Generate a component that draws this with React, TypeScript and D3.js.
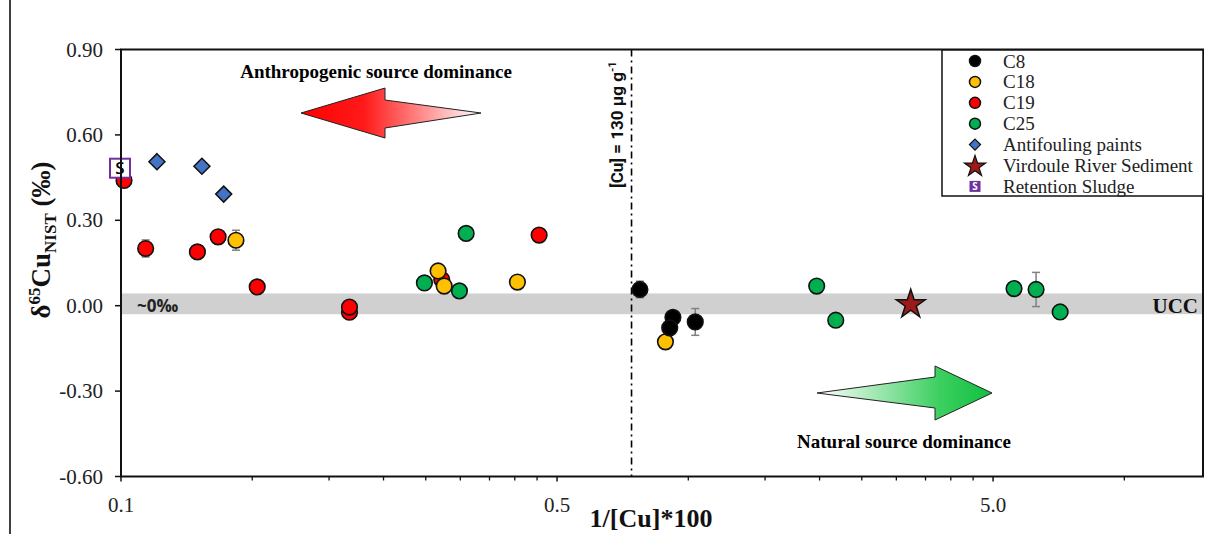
import React from "react";
import * as d3 from "d3";

// ---- data ----
const c8X = [1.549, 1.844, 1.813, 2.075];
const c8Y = [0.057, -0.041, -0.078, -0.057];
const c8Err = [0.029, 0, 0, 0.047];

const c18X = [0.1835, 0.5336, 0.551, 0.8112, 1.7725];
const c18Y = [0.23, 0.122, 0.069, 0.083, -0.127];
const c18Err = [0.035, 0, 0, 0, 0];

const c19X = [0.1016, 0.1139, 0.1497, 0.167, 0.2053, 0.3342, 0.3342, 0.544, 0.9097];
const c19Y = [0.44, 0.201, 0.189, 0.242, 0.066, -0.023, -0.005, 0.092, 0.248];
const c19Err = [0, 0.03, 0, 0, 0, 0, 0, 0, 0];

const c25X = [0.4964, 0.5972, 0.6188, 3.94, 4.357, 11.17, 12.55, 14.25];
const c25Y = [0.08, 0.052, 0.254, 0.069, -0.051, 0.06, 0.057, -0.022];
const c25Err = [0, 0, 0.02, 0, 0, 0, 0.06, 0];

const paintX = [0.1209, 0.1533, 0.172];
const paintY = [0.506, 0.49, 0.392];

const sedimentX = [6.474];
const sedimentY = [0.008];

const sludgeX = [0.1];
const sludgeY = [0.483];

const majorTickValues = [0.1, 1, 10];
const majorTickLabels = ["0.1", "0.5", "5.0"];
const minorTickValues = [0.2, 0.3, 0.4, 0.5, 0.6, 0.7, 0.8, 0.9, 2, 3, 4, 5, 6, 7, 8, 9, 20];
const yTickValues = [-0.6, -0.3, 0, 0.3, 0.6, 0.9];

const uccBand = [-0.03, 0.043];
const cuThresholdX = 1.482;

const legendLabels = ["C8", "C18", "C19", "C25", "Antifouling paints", "Virdoule River Sediment", "Retention Sludge"];

const COLORS = {
  c8: "#000000",
  c18: "#ffc000",
  c19: "#ff0000",
  c25: "#00b050",
  paint: "#4472c4",
  star: "#9c1a1a",
  sludge: "#7030a0",
};

const SERIF = "'Liberation Serif', 'Times New Roman', serif";
const SANS = "'Open Sans', 'Noto Sans', 'Liberation Sans', sans-serif";
const NARROW = "Roboto, 'Noto Sans', sans-serif";

const W = 1209;
const H = 534;
const left = 121;
const right = 1203;
const top = 49.5;
const bottom = 476.5;

const x = d3.scaleLog().domain([0.1, 30.3]).range([left, right]);
const y = d3.scaleLinear().domain([-0.6, 0.9]).range([bottom, top]);

const starPath = d3.symbol().type(d3.symbolStar).size(260)() as string;
const diamondPath = (s: number) => `M0,${-s}L${s},0L0,${s}L${-s},0Z`;
const fmtY = (v: number) => d3.format(".2f")(v).replace("\u2212", "-");

function circles(xs: number[], ys: number[], errs: number[], fill: string, key: string) {
  return xs.map((xv, i) => {
    const cx = x(xv);
    const cy = y(ys[i]);
    const e = errs[i];
    return (
      <g key={key + i}>
        {e > 0 && (
          <g stroke="#808080" strokeWidth={1.5}>
            <line x1={cx} x2={cx} y1={y(ys[i] + e)} y2={y(ys[i] - e)} />
            <line x1={cx - 4} x2={cx + 4} y1={y(ys[i] + e)} y2={y(ys[i] + e)} />
            <line x1={cx - 4} x2={cx + 4} y1={y(ys[i] - e)} y2={y(ys[i] - e)} />
          </g>
        )}
        <circle cx={cx} cy={cy} r={7.8} fill={fill} stroke="#111" strokeWidth={1.6} />
      </g>
    );
  });
}

export default function App() {
  const legendX = 942;
  const legendY = 50;
  const legendSymX = 975;
  const legendTextX = 1003;
  const legendRow = (i: number) => 61 + i * 20.9;

  return (
    <svg width={W} height={H} style={{ position: "absolute", left: 0, top: 0, background: "#fff" }}>
      <defs>
        <linearGradient id="redGrad" x1="0" x2="1" y1="0" y2="0">
          <stop offset="0%" stopColor="#ff0000" />
          <stop offset="35%" stopColor="#ff1a1a" />
          <stop offset="100%" stopColor="#ffffff" />
        </linearGradient>
        <linearGradient id="greenGrad" x1="0" x2="1" y1="0" y2="0">
          <stop offset="0%" stopColor="#ffffff" />
          <stop offset="70%" stopColor="#3ccf60" />
          <stop offset="100%" stopColor="#10c040" />
        </linearGradient>
      </defs>

      {/* outer frame line */}
      <line x1={10} x2={10} y1={0} y2={H} stroke="#000" strokeWidth={1.5} />

      {/* UCC band */}
      <rect x={left} y={y(uccBand[1])} width={right - left} height={y(uccBand[0]) - y(uccBand[1])} fill="#d0d0d0" />

      {/* threshold line */}
      <line x1={x(cuThresholdX)} x2={x(cuThresholdX)} y1={top} y2={bottom} stroke="#000" strokeWidth={1.6} strokeDasharray="7,4,2,4" />
      <text
        transform={`translate(${x(cuThresholdX) - 9},${188}) rotate(-90)`}
        fontFamily={NARROW}
        fontWeight="bold"
        fontSize={17}
        fill="#111"
      >
        [Cu] = 130 µg g<tspan dy={-7} fontSize={11}>-1</tspan>
      </text>

      {/* arrows */}
      <path d="M301,113 L385,88 L385,100 L481,113 L385,128 L385,138 Z" fill="url(#redGrad)" stroke="#222" strokeWidth={1} />
      <path d="M817,393 L935,377 L935,366 L992,393 L935,420 L935,408 Z" fill="url(#greenGrad)" stroke="#222" strokeWidth={1} />
      <text x={376} y={78} textAnchor="middle" fontFamily={SERIF} fontWeight="bold" fontSize={19}>
        Anthropogenic source dominance
      </text>
      <text x={904} y={448} textAnchor="middle" fontFamily={SERIF} fontWeight="bold" fontSize={19}>
        Natural source dominance
      </text>

      {/* ~0‰ and UCC */}
      <text x={137} y={312} fontFamily={SANS} fontWeight="bold" fontSize={17} fill="#222">
        ~0‰
      </text>
      <text x={1198} y={313} textAnchor="end" fontFamily={SERIF} fontWeight="bold" fontSize={21} fill="#111">
        UCC
      </text>

      {/* error bars + circles */}
      {circles(c19X, c19Y, c19Err, COLORS.c19, "c19")}
      {circles(c18X, c18Y, c18Err, COLORS.c18, "c18")}
      {circles(c25X, c25Y, c25Err, COLORS.c25, "c25")}
      {circles(c8X, c8Y, c8Err, COLORS.c8, "c8")}

      {/* antifouling paints */}
      {paintX.map((xv, i) => (
        <path key={"p" + i} d={diamondPath(8)} transform={`translate(${x(xv)},${y(paintY[i])})`} fill={COLORS.paint} stroke="#111" strokeWidth={1.5} />
      ))}

      {/* sediment star */}
      {sedimentX.map((xv, i) => (
        <path key={"s" + i} d={starPath} transform={`translate(${x(xv)},${y(sedimentY[i]) + 1})`} fill={COLORS.star} stroke="#111" strokeWidth={1.5} />
      ))}

      {/* sludge */}
      {sludgeX.map((xv, i) => (
        <g key={"sl" + i} transform={`translate(${x(xv) - 1},${y(sludgeY[i])})`}>
          <rect x={-10} y={-9.5} width={20} height={19} fill="#fff" stroke={COLORS.sludge} strokeWidth={2} />
          <text x={0} y={6} textAnchor="middle" fontFamily={SANS} fontWeight={600} fontSize={17} fill="#000">
            S
          </text>
        </g>
      ))}

      {/* plot frame */}
      <rect x={left} y={top} width={right - left} height={bottom - top} fill="none" stroke="#111" strokeWidth={2} />

      {/* y axis ticks */}
      {yTickValues.map((v) => (
        <g key={"yt" + v}>
          <line x1={left - 6} x2={left} y1={y(v)} y2={y(v)} stroke="#111" strokeWidth={1.5} />
          <text x={103} y={y(v) + 7} textAnchor="end" fontFamily={SERIF} fontSize={21} fill="#222">
            {fmtY(v)}
          </text>
        </g>
      ))}

      {/* x axis ticks */}
      {majorTickValues.map((v, i) => (
        <g key={"xt" + v}>
          <line x1={x(v)} x2={x(v)} y1={bottom} y2={bottom + 5} stroke="#111" strokeWidth={1.5} />
          <text x={x(v)} y={512} textAnchor="middle" fontFamily={SERIF} fontSize={21} fill="#222">
            {majorTickLabels[i]}
          </text>
        </g>
      ))}
      {minorTickValues.map((v) => (
        <line key={"mt" + v} x1={x(v)} x2={x(v)} y1={bottom} y2={bottom + 4} stroke="#111" strokeWidth={1.3} />
      ))}

      {/* axis titles */}
      <text x={651} y={527} textAnchor="middle" fontFamily={SERIF} fontWeight="bold" fontSize={26} fill="#111">
        1/[Cu]*100
      </text>
      <text
        transform="translate(50,240) rotate(-90)"
        textAnchor="middle"
        fontFamily={SERIF}
        fontWeight="bold"
        fontSize={27}
        fill="#111"
      >
        δ<tspan dy={-10} fontSize={17}>65</tspan>
        <tspan dy={10}>Cu</tspan>
        <tspan dy={6} fontSize={17}>NIST</tspan>
        <tspan dy={-6}> (‰)</tspan>
      </text>

      {/* legend */}
      <rect x={legendX} y={legendY} width={right - legendX} height={146} fill="#fff" stroke="#111" strokeWidth={1.5} />
      {legendLabels.map((lab, i) => {
        const cy = legendRow(i);
        let sym: React.ReactNode = null;
        if (i === 0) sym = <circle cx={legendSymX} cy={cy} r={5.5} fill={COLORS.c8} stroke="#111" strokeWidth={1.5} />;
        if (i === 1) sym = <circle cx={legendSymX} cy={cy} r={5.5} fill={COLORS.c18} stroke="#111" strokeWidth={1.5} />;
        if (i === 2) sym = <circle cx={legendSymX} cy={cy} r={5.5} fill={COLORS.c19} stroke="#111" strokeWidth={1.5} />;
        if (i === 3) sym = <circle cx={legendSymX} cy={cy} r={5.5} fill={COLORS.c25} stroke="#111" strokeWidth={1.5} />;
        if (i === 4) sym = <path d={diamondPath(5.5)} transform={`translate(${legendSymX},${cy})`} fill={COLORS.paint} stroke="#111" strokeWidth={1.3} />;
        if (i === 5)
          sym = (
            <path
              d={d3.symbol().type(d3.symbolStar).size(140)() as string}
              transform={`translate(${legendSymX},${cy + 1})`}
              fill={COLORS.star}
              stroke="#111"
              strokeWidth={1.2}
            />
          );
        if (i === 6)
          sym = (
            <g transform={`translate(${legendSymX},${cy})`}>
              <rect x={-5.5} y={-5.5} width={11} height={11} fill={COLORS.sludge} />
              <text x={0} y={4} textAnchor="middle" fontFamily={SANS} fontWeight="bold" fontSize={10} fill="#fff">
                S
              </text>
            </g>
          );
        return (
          <g key={"lg" + i}>
            {sym}
            <text x={legendTextX} y={cy + 6.5} fontFamily={SERIF} fontSize={19} fill="#222">
              {lab}
            </text>
          </g>
        );
      })}
    </svg>
  );
}
